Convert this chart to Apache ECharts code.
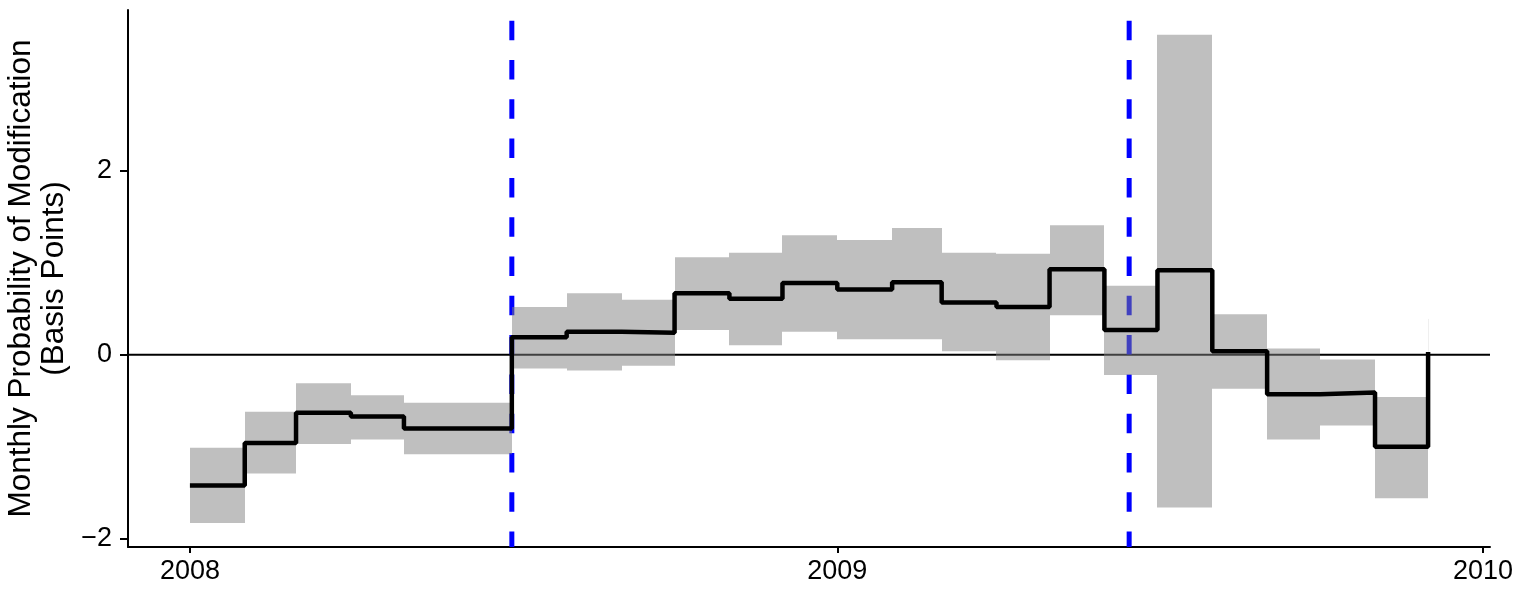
<!DOCTYPE html>
<html>
<head>
<meta charset="utf-8">
<script src="https://cdn.jsdelivr.net/npm/echarts@6/dist/echarts.min.js"></script>
<style>
html,body{margin:0;padding:0;background:#fff;}
#chart{width:1529px;height:589px;}
</style>
</head>
<body>
<div id="chart"></div>
<script>
// ---- data ----
const months = ['2008-01','2008-02','2008-03','2008-04','2008-05','2008-06','2008-07','2008-08','2008-09','2008-10','2008-11','2008-12',
                '2009-01','2009-02','2009-03','2009-04','2009-05','2009-06','2009-07','2009-08','2009-09','2009-10','2009-11','2009-12'];
const estimate = [-1.42,-0.96,-0.63,-0.67,-0.80,-0.80, 0.19, 0.25, 0.24, 0.67, 0.61, 0.78,
                   0.71, 0.79, 0.57, 0.52, 0.93, 0.27, 0.92, 0.04,-0.43,-0.41,-1.00, 0.03];
const upper    = [-1.01,-0.62,-0.31,-0.44,-0.52,-0.52, 0.52, 0.67, 0.60, 1.06, 1.11, 1.30,
                   1.25, 1.38, 1.11, 1.10, 1.41, 0.75, 3.48, 0.44, 0.07,-0.05,-0.46, 0.39];
const lower    = [-1.83,-1.29,-0.97,-0.92,-1.08,-1.08,-0.15,-0.17,-0.12, 0.27, 0.105,0.25,
                   0.17, 0.17, 0.04,-0.06, 0.43,-0.22,-1.66,-0.37,-0.92,-0.77,-1.56,-0.33];
const eventDates = ['2008-07-01','2009-06-15'];
const xTickYears = [2008, 2009, 2010];
const yTicks = [-2, 0, 2];

// ---- helpers ----
function ts(s){ const p = s.split('-').map(Number); return Date.UTC(p[0], p[1]-1, p[2]||1); }
const monthTs = months.map(ts);
const xMin = Date.UTC(2007,10,27), xMax = Date.UTC(2010,0,5);
const yMin = -2.09, yMax = 3.75;

const bandData = monthTs.map((t,i)=>[t, i+1<monthTs.length ? monthTs[i+1] : t, lower[i], upper[i]]);
const stepData = monthTs.map((t,i)=>[t, estimate[i]]);
const xTickTs = xTickYears.map(y=>Date.UTC(y,0,1));

const font = 'Liberation Sans, Arial, sans-serif';
const chart = echarts.init(document.getElementById('chart'), null, {renderer:'canvas'});

const series = [];
// zero reference line
series.push({
  type:'line', data:[[xMin,0],[xMax,0]], symbol:'none', silent:true, z:1,
  lineStyle:{color:'#000', width:2}, animation:false
});
// event lines
eventDates.forEach(d=>{
  const t = ts(d);
  series.push({
    type:'line', data:[[t,yMax],[t,yMin]], symbol:'none', silent:true, z:2,
    lineStyle:{color:'#0000ff', width:5, type:[19.5,19.8], dashOffset:28.6, cap:'butt'},
    animation:false
  });
});
// confidence bands
series.push({
  type:'custom', z:3, silent:true, animation:false,
  data: bandData,
  encode:{x:[0,1], y:[2,3]},
  renderItem:function(params, api){
    const p0 = api.coord([api.value(0), api.value(3)]);
    const p1 = api.coord([api.value(1), api.value(2)]);
    const x0 = Math.round(p0[0]), x1 = Math.round(p1[0]);
    if (x1 <= x0) {
      return {type:'line', shape:{x1:x0+0.5, y1:p0[1], x2:x0+0.5, y2:p1[1]},
              style:{stroke:'rgba(127,127,127,0.12)', lineWidth:1}};
    }
    return {type:'rect', shape:{x:x0, y:p0[1], width:x1-x0, height:p1[1]-p0[1]},
            style:{fill:'rgba(127,127,127,0.5)'}};
  }
});
// step estimate
series.push({
  type:'line', step:'end', data:stepData, symbol:'none', silent:true, z:4,
  lineStyle:{color:'#000', width:4.5}, animation:false
});

chart.setOption({
  animation:false,
  backgroundColor:'#fff',
  grid:{left:128, right:39, top:10, bottom:42, containLabel:false, outerBoundsMode:'none'},
  xAxis:{
    type:'value', min:xMin, max:xMax,
    axisLine:{show:true, onZero:false, lineStyle:{color:'#000', width:2}},
    axisTick:{show:true, length:6, lineStyle:{color:'#000', width:2}, customValues:xTickTs},
    axisLabel:{fontSize:27, color:'#000', fontFamily:font, margin:11, customValues:xTickTs,
      formatter:function(v){ return String(new Date(v).getUTCFullYear()); }},
    splitLine:{show:false}
  },
  yAxis:{
    type:'value', min:yMin, max:yMax,
    name:'Monthly Probability of Modification\n(Basis Points)',
    nameLocation:'middle', nameRotate:90, nameGap:80,
    nameTextStyle:{fontSize:31.5, color:'#000', fontFamily:font, lineHeight:33, align:'center', verticalAlign:'middle'},
    axisLine:{show:true, onZero:false, lineStyle:{color:'#000', width:2}},
    axisTick:{show:true, length:8, lineStyle:{color:'#000', width:2}, customValues:yTicks},
    axisLabel:{fontSize:27, color:'#000', fontFamily:font, margin:16, customValues:yTicks,
      formatter:function(v){ return v < 0 ? '\u2212' + Math.abs(v) : String(v); }},
    splitLine:{show:false}
  },
  series: series
});
</script>
</body>
</html>
